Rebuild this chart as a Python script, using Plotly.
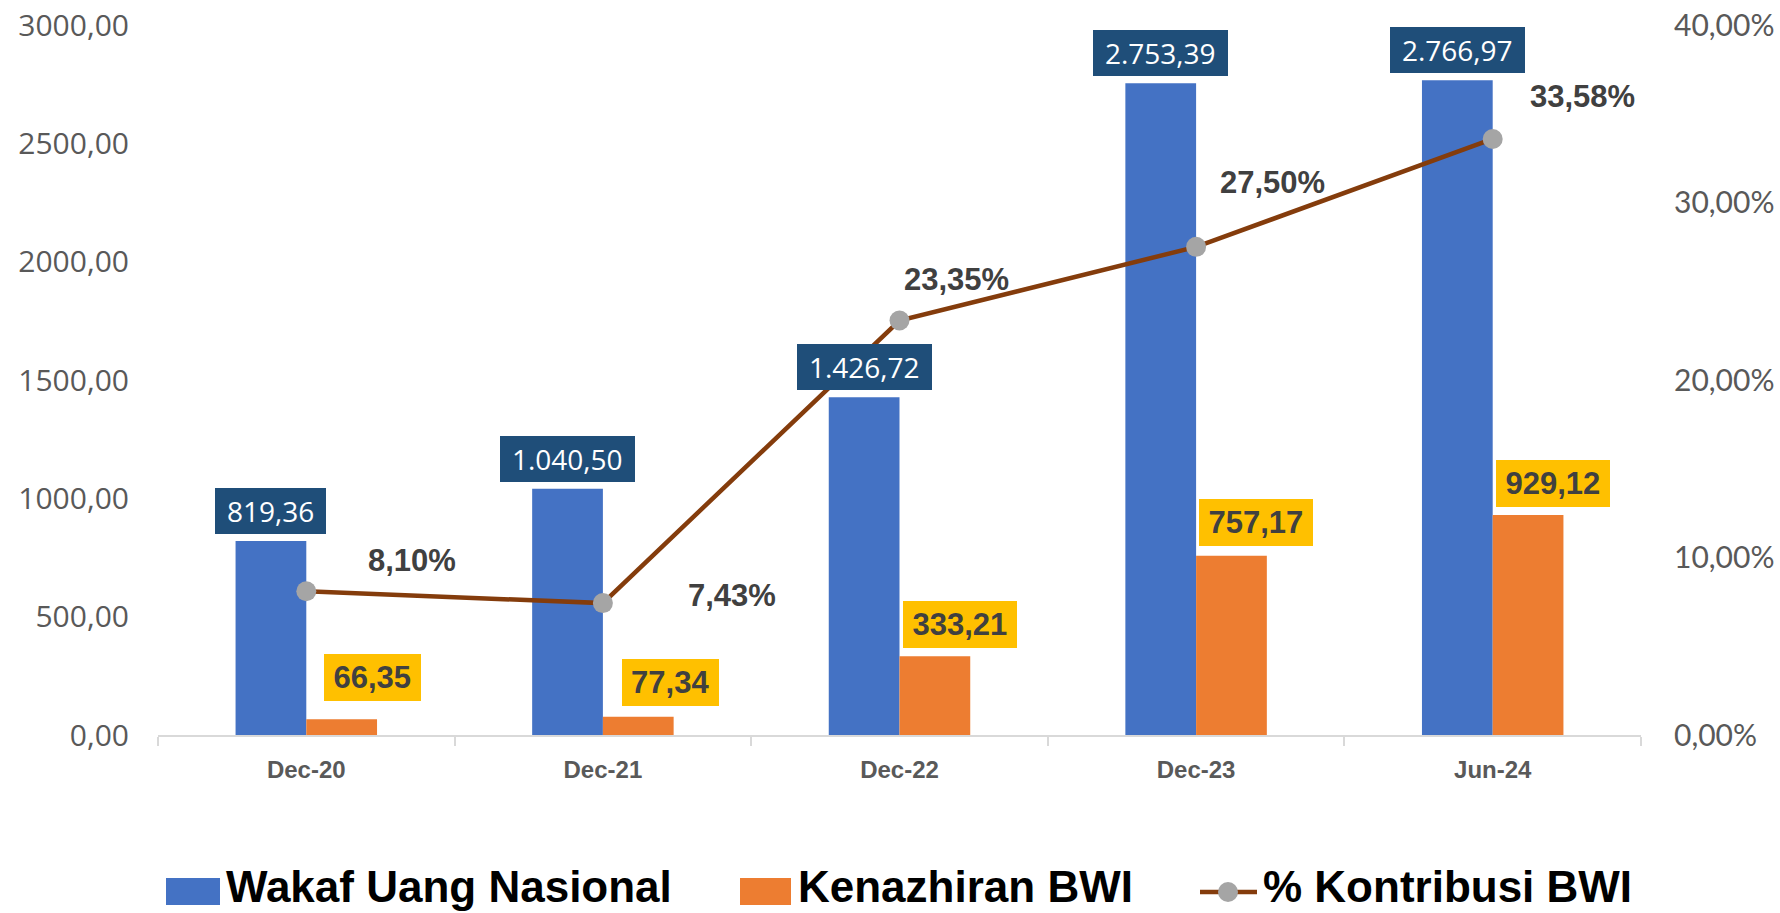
import plotly.graph_objects as go

# ---------------- data ----------------
categories = ["Dec-20", "Dec-21", "Dec-22", "Dec-23", "Jun-24"]
wakaf_uang_nasional = [819.36, 1040.50, 1426.72, 2753.39, 2766.97]
kenazhiran_bwi = [66.35, 77.34, 333.21, 757.17, 929.12]
kontribusi_bwi = [0.0810, 0.0743, 0.2335, 0.2750, 0.3358]
left_ticks = [0, 500, 1000, 1500, 2000, 2500, 3000]
right_ticks = [0.0, 0.1, 0.2, 0.3, 0.4]

# label nudges (pixels) - styling only
pct_dx = [106, 129, 57, 76, 90]
pct_dy = [31, 8, 41, 64, 42]
orange_dx = [31, 32, 25, 25, 25]
orange_gap = [18, 11, 8, 10, 8]
blue_gap = 7

# ---------------- layout geometry ----------------
W, H = 1780, 913
ML, MR, MT, MB = 158, 139, 25, 178
PW = W - ML - MR
PH = H - MT - MB
BARGAP = 0.523
cat_w = PW / len(categories)
bar_w = cat_w * (1 - BARGAP) / 2

C_BLUE = "#4472C4"
C_ORANGE = "#ED7D31"
C_LINE = "#843C0C"
C_MARK = "#A5A5A5"
C_NAVY = "#1F4E79"
C_YELLOW = "#FFC000"
C_TXT = "#404040"
C_AX = "#595959"


def px2x(px):
    return (px - ML) / PW


def px2y(py):
    return (H - MB - py) / PH


def fmt_id(v, dec=2):
    s = f"{v:,.{dec}f}"
    return s.replace(",", "X").replace(".", ",").replace("X", ".")


fig = go.Figure()
fig.add_trace(go.Bar(x=categories, y=wakaf_uang_nasional, name="Wakaf Uang Nasional",
                     marker=dict(color=C_BLUE, line=dict(width=0)), showlegend=False))
fig.add_trace(go.Bar(x=categories, y=kenazhiran_bwi, name="Kenazhiran BWI",
                     marker=dict(color=C_ORANGE, line=dict(width=0)), showlegend=False))
fig.add_trace(go.Scatter(x=categories, y=kontribusi_bwi, name="% Kontribusi BWI", yaxis="y2",
                         mode="lines+markers",
                         line=dict(color=C_LINE, width=4.5),
                         marker=dict(color=C_MARK, size=20, line=dict(width=0)),
                         showlegend=False))

annotations = []
# blue labels
for c, v in zip(categories, wakaf_uang_nasional):
    t = fmt_id(v)
    nd = sum(ch.isdigit() for ch in t)
    npn = len(t) - nd
    wbox = nd * 16.0 + npn * 7.3 + 24
    annotations.append(dict(x=c, y=v, xref="x", yref="y", text=t, showarrow=False,
                            xshift=-bar_w / 2, yshift=blue_gap, yanchor="bottom", xanchor="center",
                            bgcolor=C_NAVY, borderpad=0, borderwidth=0, width=wbox, height=46,
                            font=dict(family="Open Sans", size=28, color="white")))
# orange labels
for c, v, dx, g in zip(categories, kenazhiran_bwi, orange_dx, orange_gap):
    t = fmt_id(v)
    nd = sum(ch.isdigit() for ch in t)
    npn = len(t) - nd
    wbox = nd * 17.24 + npn * 8.6 + 19
    annotations.append(dict(x=c, y=v, xref="x", yref="y", text=t, showarrow=False,
                            xshift=bar_w / 2 + dx, yshift=g, yanchor="bottom", xanchor="center",
                            bgcolor=C_YELLOW, borderpad=0, borderwidth=0, width=wbox, height=47,
                            font=dict(family="Liberation Sans", size=31, color=C_TXT, weight="bold")))
# line labels
for c, v, dx, dy in zip(categories, kontribusi_bwi, pct_dx, pct_dy):
    t = f"{v*100:.2f}".replace(".", ",") + "%"
    annotations.append(dict(x=c, y=v, xref="x", yref="y2", text=t, showarrow=False,
                            xshift=dx, yshift=dy, xanchor="center", yanchor="middle",
                            font=dict(family="Liberation Sans", size=31, color=C_TXT, weight="bold")))

# manual legend
legend_y = 886
legend_font = dict(family="Liberation Sans", size=44, color="black", weight="bold")
shapes = []
shapes.append(dict(type="rect", xref="paper", yref="paper", x0=px2x(166), x1=px2x(220),
                   y0=px2y(905), y1=px2y(878), fillcolor=C_BLUE, line=dict(width=0)))
shapes.append(dict(type="rect", xref="paper", yref="paper", x0=px2x(740), x1=px2x(791),
                   y0=px2y(905), y1=px2y(878), fillcolor=C_ORANGE, line=dict(width=0)))
shapes.append(dict(type="line", xref="paper", yref="paper", x0=px2x(1200), x1=px2x(1257),
                   y0=px2y(892), y1=px2y(892), line=dict(color=C_LINE, width=4.5)))
shapes.append(dict(type="circle", xref="paper", yref="paper", xsizemode="pixel", ysizemode="pixel",
                   xanchor=px2x(1228), yanchor=px2y(892), x0=-10, x1=10, y0=-10, y1=10,
                   fillcolor=C_MARK, line=dict(width=0)))
for txt, px in [("Wakaf Uang Nasional", 224), ("Kenazhiran BWI", 796), ("% Kontribusi BWI", 1261)]:
    annotations.append(dict(x=px2x(px), y=px2y(legend_y), xref="paper", yref="paper", text=txt,
                            showarrow=False, xanchor="left", yanchor="middle", font=legend_font))

fig.update_layout(
    width=W, height=H, autosize=False,
    margin=dict(l=ML, r=MR, t=MT, b=MB, pad=0, autoexpand=False),
    paper_bgcolor="white", plot_bgcolor="white",
    separators=",.",
    barmode="group", bargap=BARGAP, bargroupgap=0,
    showlegend=False,
    annotations=annotations, shapes=shapes,
    xaxis=dict(type="category", showgrid=False, showline=True, linecolor="#D9D9D9", linewidth=2,
               ticks="outside", tickson="boundaries", ticklen=9, tickwidth=2, tickcolor="#D9D9D9",
               ticklabelstandoff=12, automargin=False,
               tickfont=dict(family="Liberation Sans", size=24, color=C_AX, weight="bold"),
               zeroline=False),
    yaxis=dict(range=[0, 3000], tickvals=left_ticks, tickformat=".2f", showgrid=False,
               showline=False, zeroline=False, ticks="", ticklabelstandoff=28, automargin=False,
               tickfont=dict(family="Open Sans", size=30, color=C_AX)),
    yaxis2=dict(range=[0, 0.4], tickvals=right_ticks, tickformat=".2%", overlaying="y", side="right",
                showgrid=False, showline=False, zeroline=False, ticks="", ticklabelstandoff=32,
                automargin=False,
                tickfont=dict(family="Lato", size=30, color=C_AX)),
)

fig.write_html("out.html", config={"displayModeBar": False},
               post_script="document.body.style.margin='0';document.body.style.overflow='hidden';")
